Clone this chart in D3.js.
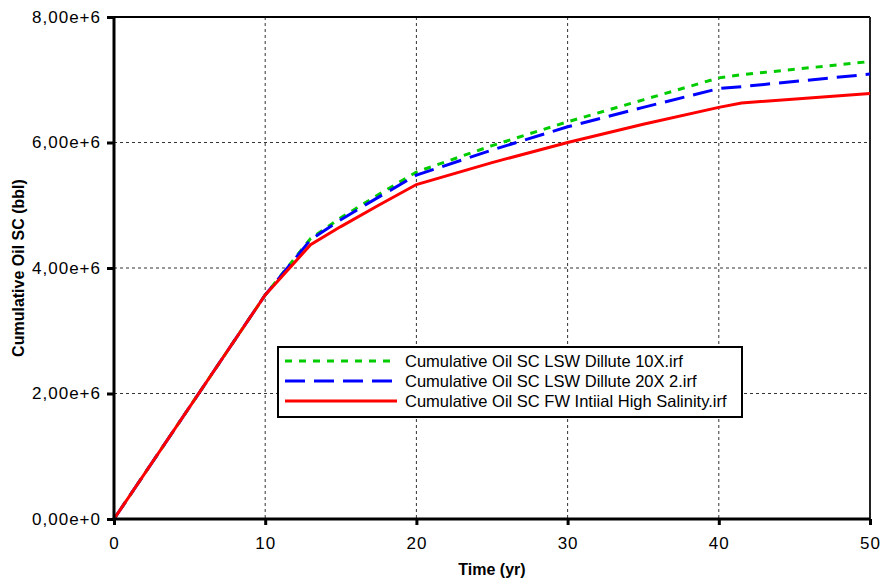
<!DOCTYPE html>
<html>
<head>
<meta charset="utf-8">
<script src="https://cdn.jsdelivr.net/npm/d3@7"></script>
<style>
  body { margin: 0; background: #fff; }
  text { font-family: "Liberation Sans", Arial, sans-serif; }
</style>
</head>
<body>
<div id="viz"></div>
<script>
var width = 882;
var height = 580;

// time in years
var times = [0, 10, 13, 15, 17.5, 20, 25, 30, 35, 40, 41.5, 50];
// cumulative oil, bbl
var lsw10 = [0, 3.57e6, 4.47e6, 4.80e6, 5.17e6, 5.53e6, 5.95e6, 6.33e6, 6.68e6, 7.03e6, 7.08e6, 7.29e6];
var lsw20 = [0, 3.57e6, 4.45e6, 4.77e6, 5.13e6, 5.48e6, 5.88e6, 6.25e6, 6.56e6, 6.86e6, 6.89e6, 7.09e6];
var fwHigh = [0, 3.57e6, 4.37e6, 4.66e6, 5.00e6, 5.33e6, 5.68e6, 6.00e6, 6.29e6, 6.56e6, 6.63e6, 6.78e6];

var seriesNames = [
  "Cumulative Oil SC LSW Dillute 10X.irf",
  "Cumulative Oil SC LSW Dillute 20X 2.irf",
  "Cumulative Oil SC FW Intiial High Salinity.irf"
];
var xTicks = [0, 10, 20, 30, 40, 50];
var yTicks = [0, 2e6, 4e6, 6e6, 8e6];
var yTickLabels = ["0,00e+0", "2,00e+6", "4,00e+6", "6,00e+6", "8,00e+6"];

var series = [
  { name: seriesNames[0], values: lsw10, color: "#00cc00", dash: "7,7" },
  { name: seriesNames[1], values: lsw20, color: "#0000ff", dash: "20,9" },
  { name: seriesNames[2], values: fwHigh, color: "#ff0000", dash: null }
];

var pLeft = 114, pRight = 870, pTop = 17, pBottom = 519;

var svg = d3.select("#viz")
    .append("svg")
    .attr("width", width)
    .attr("height", height);

var x = d3.scaleLinear().domain([0, 50]).range([pLeft, pRight]);
var y = d3.scaleLinear().domain([0, 8e6]).range([pBottom, pTop]);

// grid
svg.append("g")
  .selectAll("line")
  .data(xTicks.slice(1, -1))
  .enter()
  .append("line")
  .attr("x1", d => x(d)).attr("x2", d => x(d))
  .attr("y1", pTop).attr("y2", pBottom)
  .attr("stroke", "#333")
  .attr("stroke-dasharray", "3,3");

svg.append("g")
  .selectAll("line")
  .data(yTicks.slice(1, -1))
  .enter()
  .append("line")
  .attr("y1", d => y(d)).attr("y2", d => y(d))
  .attr("x1", pLeft).attr("x2", pRight)
  .attr("stroke", "#333")
  .attr("stroke-dasharray", "3,3");

// border
svg.append("line").attr("x1", pLeft).attr("x2", pRight).attr("y1", pTop).attr("y2", pTop)
  .attr("stroke", "#000").attr("stroke-width", 2);
svg.append("line").attr("x1", pRight).attr("x2", pRight).attr("y1", pTop).attr("y2", pBottom)
  .attr("stroke", "#222").attr("stroke-width", 2);

// lines (red drawn last, on top)
var line = d3.line()
  .x((d, i) => x(times[i]))
  .y(d => y(d));

svg.append("g")
  .selectAll("path")
  .data(series)
  .enter()
  .append("path")
  .attr("d", d => line(d.values))
  .attr("fill", "none")
  .attr("stroke", d => d.color)
  .attr("stroke-width", 3)
  .attr("stroke-dasharray", d => d.dash);

// axes
var xAxis = d3.axisBottom(x).tickValues(xTicks).tickSize(6).tickPadding(12);
var yAxis = d3.axisLeft(y).tickValues(yTicks).tickSize(7).tickPadding(6)
  .tickFormat((d, i) => yTickLabels[i]);

var gx = svg.append("g").attr("transform", "translate(0," + pBottom + ")").call(xAxis);
var gy = svg.append("g").attr("transform", "translate(" + pLeft + ",0)").call(yAxis);

[gx, gy].forEach(function(g) {
  g.select(".domain").attr("stroke", "#000").attr("stroke-width", 3);
  g.selectAll(".tick line").attr("stroke", "#000").attr("stroke-width", 3);
  g.selectAll(".tick text").attr("fill", "#000").style("font-size", "17px")
    .style("font-family", "'Liberation Sans', Arial, sans-serif")
    .style("letter-spacing", "1px");
});
gx.select(".domain").attr("d", "M" + (pLeft - 1.5) + ",0H" + pRight);
gy.select(".domain").attr("d", "M0," + (pBottom + 1.5) + "V" + pTop);

// titles
svg.append("text")
  .attr("x", (pLeft + pRight) / 2)
  .attr("y", 575)
  .attr("text-anchor", "middle")
  .style("font-size", "16px")
  .style("font-weight", "bold")
  .text("Time (yr)");

svg.append("text")
  .attr("transform", "translate(24," + ((pTop + pBottom) / 2) + ") rotate(-90)")
  .attr("text-anchor", "middle")
  .style("font-size", "16px")
  .style("font-weight", "bold")
  .text("Cumulative Oil SC (bbl)");

// legend
var lg = svg.append("g").attr("transform", "translate(278,347)");
lg.append("rect")
  .attr("width", 464).attr("height", 70)
  .attr("fill", "#fff").attr("stroke", "#000").attr("stroke-width", 2);

var items = lg.selectAll("g.item")
  .data(series)
  .enter()
  .append("g")
  .attr("class", "item")
  .attr("transform", (d, i) => "translate(0," + (14 + i * 20) + ")");

items.append("line")
  .attr("x1", 7).attr("x2", 119)
  .attr("stroke", d => d.color)
  .attr("stroke-width", 3)
  .attr("stroke-dasharray", d => d.dash);

items.append("text")
  .attr("x", 127).attr("y", 6)
  .style("font-size", "16.5px")
  .text(d => d.name);
</script>
</body>
</html>
